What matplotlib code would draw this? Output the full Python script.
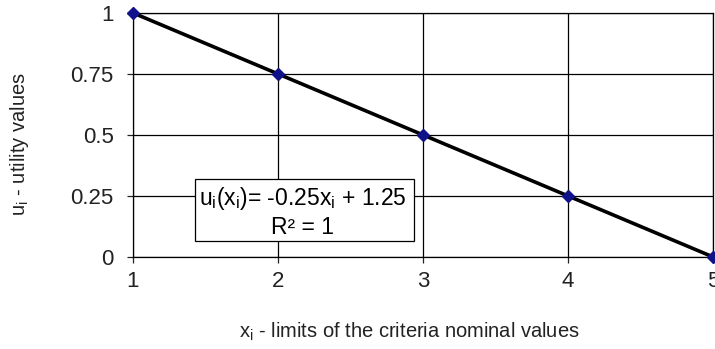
import numpy as np
import matplotlib
matplotlib.use("Agg")
import matplotlib.pyplot as plt
from matplotlib.patches import Rectangle

plt.rcParams['font.family'] = ['Liberation Sans', 'DejaVu Sans']
plt.rcParams['mathtext.default'] = 'regular'

# data
x_vals = [1, 2, 3, 4, 5]
u_vals = [1, 0.75, 0.5, 0.25, 0]
y_ticks = [0, 0.25, 0.5, 0.75, 1]
y_tick_labels = ['0', '0.25', '0.5', '0.75', '1']

fig = plt.figure(figsize=(7.15, 3.49), dpi=100)
ax = fig.add_axes([0.186, 0.264, 0.811, 0.699])

# 線とマーカー
ax.plot(x_vals, u_vals, color='black', lw=2.6, zorder=3)
ax.plot(x_vals, u_vals, ls='none', marker='D', ms=6.5, color='#10128a',
        zorder=4, clip_on=False)

ax.set_xlim(1, 5)
ax.set_ylim(0, 1)
ax.set_xticks(x_vals)
ax.set_yticks(y_ticks)
ax.set_yticklabels(y_tick_labels)
ax.grid(True, color='black', lw=0.9)
ax.set_axisbelow(True)
for s in ax.spines.values():
    s.set_color('black')
    s.set_linewidth(0.9)
ax.tick_params(direction='out', length=4, width=0.9, labelsize=16,
               colors='#222222')
ax.tick_params(axis='y', pad=10)
ax.tick_params(axis='x', pad=6)

ax.set_xlabel('x$_i$ - limits of the criteria nominal values', fontsize=14.5,
              color='#222222', va='center')
ax.xaxis.set_label_coords(0.476, -0.307)
ax.set_ylabel('u$_i$ - utility values', fontsize=14.5, color='#222222',
              va='center')
ax.yaxis.set_label_coords(-0.195, 0.463)

# 式のボックス
ax.add_patch(Rectangle((0.107, 0.066), 0.377, 0.254, transform=ax.transAxes,
                       facecolor='white', edgecolor='black', lw=0.9, zorder=5))
ax.text(0.293, 0.238, 'u$_i$(x$_i$)= -0.25x$_i$ + 1.25', transform=ax.transAxes,
        ha='center', va='center', fontsize=16.5, zorder=6)
ax.text(0.293, 0.119, 'R² = 1', transform=ax.transAxes,
        ha='center', va='center', fontsize=16.5, zorder=6)

fig.savefig('out.png', dpi=100)
